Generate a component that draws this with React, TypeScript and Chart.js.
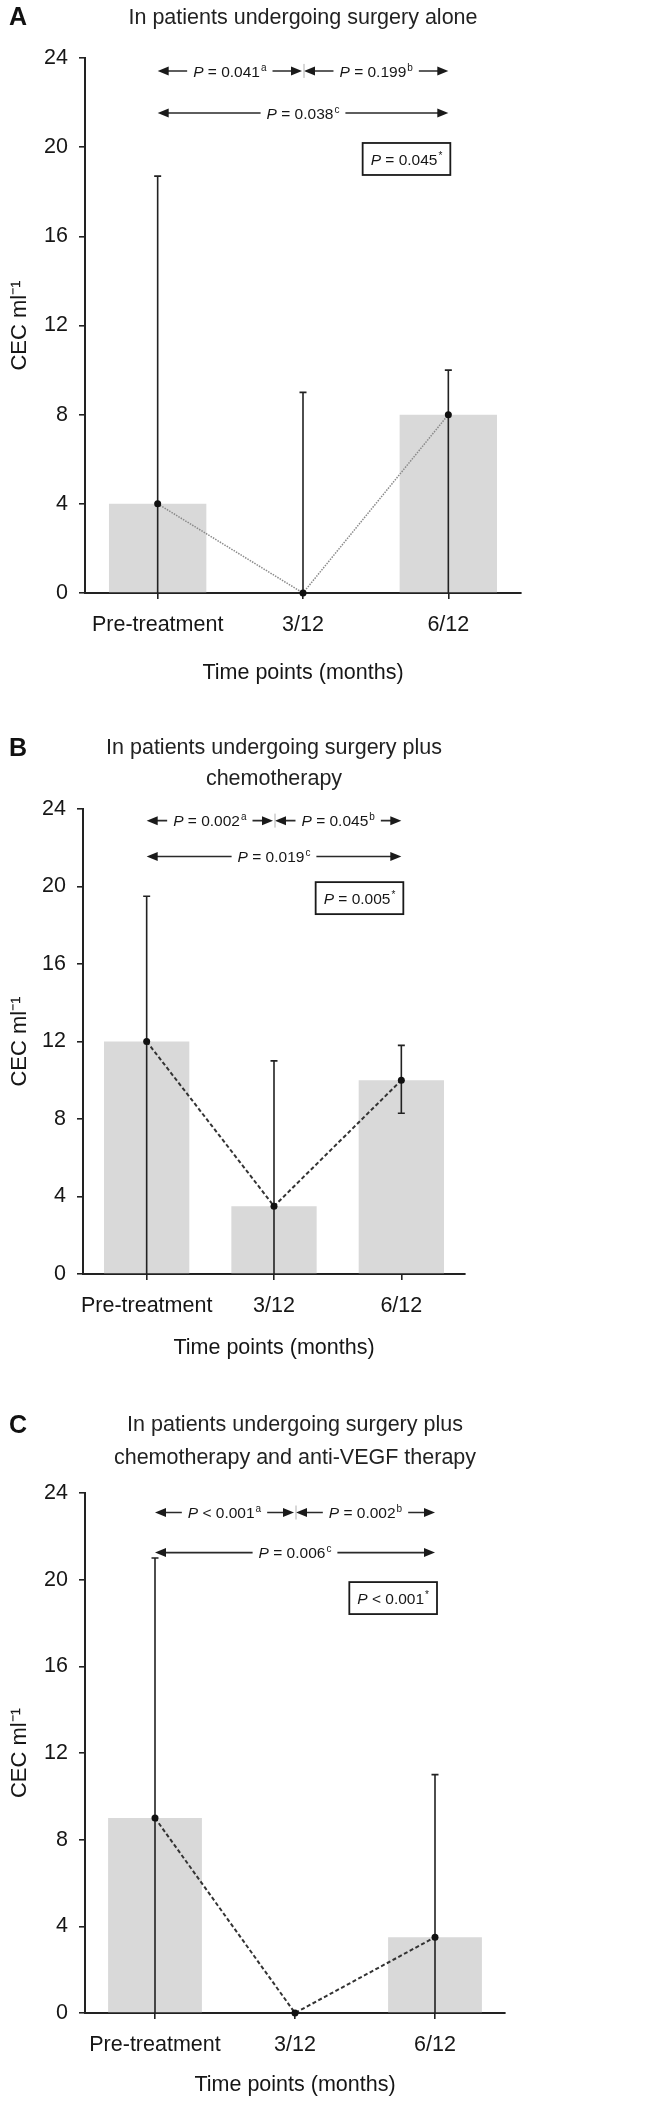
import React, { useEffect, useRef } from 'react';
import { Chart, registerables } from 'chart.js';

Chart.register(...registerables);

// ---------- data ----------
const categories = ['Pre-treatment', '3/12', '6/12'];

const surgeryMedian = [4, 0, 8];
const surgeryLow = [0, 0, 0];
const surgeryHigh = [18.7, 9, 10];

const chemoMedian = [12, 3.5, 10];
const chemoLow = [0, 0, 8.3];
const chemoHigh = [19.5, 11, 11.8];

const vegfMedian = [9, 0, 3.5];
const vegfLow = [0, 0, 0];
const vegfHigh = [21, 0, 11];

// comparisons: pre vs 3/12, 3/12 vs 6/12, pre vs 6/12, overall
const surgeryPValues = ['= 0.041', '= 0.199', '= 0.038', '= 0.045'];
const chemoPValues = ['= 0.002', '= 0.045', '= 0.019', '= 0.005'];
const vegfPValues = ['< 0.001', '= 0.002', '= 0.006', '< 0.001'];
const pMarks = ['a', 'b', 'c', '*'];

const yTickMax = 24;
const yTickStep = 4;

const yTitle = 'CEC ml\u207B\u00B9';
const xTitle = 'Time points (months)';

// ---------- layout / style ----------
const FONT = '"Liberation Sans", Arial, Helvetica, sans-serif';
const INK = '#161616';

type PanelCfg = {
  letter: string;
  title: string[];
  top: number;
  height: number;
  L: number;
  R: number;
  T: number;
  B: number;
  xh: number;
  median: number[];
  low: number[];
  high: number[];
  pv: string[];
  rowY: number[];
  boxY: number;
  letterY: number;
  titleY: number[];
  lineColor: string;
  lineDash: number[];
  lineWidth: number;
};

const panels: PanelCfg[] = [
  {
    letter: 'A',
    title: ['In patients undergoing surgery alone'],
    top: 0, height: 700,
    L: 85, R: 521, T: 58, B: 593, xh: 100,
    median: surgeryMedian, low: surgeryLow, high: surgeryHigh, pv: surgeryPValues,
    rowY: [23.42, 21.53], boxY: 19.47,
    letterY: 17, titleY: [17],
    lineColor: '#8a8a8a', lineDash: [1.5, 1.2], lineWidth: 1.5,
  },
  {
    letter: 'B',
    title: ['In patients undergoing surgery plus', 'chemotherapy'],
    top: 700, height: 700,
    L: 83, R: 465, T: 109, B: 574, xh: 94,
    median: chemoMedian, low: chemoLow, high: chemoHigh, pv: chemoPValues,
    rowY: [23.4, 21.55], boxY: 19.4,
    letterY: 48, titleY: [47, 78],
    lineColor: '#333333', lineDash: [4, 2.5], lineWidth: 2,
  },
  {
    letter: 'C',
    title: ['In patients undergoing surgery plus', 'chemotherapy and anti-VEGF therapy'],
    top: 1400, height: 707,
    L: 85, R: 505, T: 93, B: 613, xh: 92,
    median: vegfMedian, low: vegfLow, high: vegfHigh, pv: vegfPValues,
    rowY: [23.1, 21.25], boxY: 19.15,
    letterY: 25, titleY: [24, 57],
    lineColor: '#333333', lineDash: [4, 2.5], lineWidth: 2,
  },
];

const P_SIZE = 15.5;

function measureP(ctx: CanvasRenderingContext2D, value: string, mark: string, size: number) {
  ctx.font = `italic ${size}px ${FONT}`;
  const wP = ctx.measureText('P').width;
  ctx.font = `${size}px ${FONT}`;
  const wV = ctx.measureText(' ' + value).width;
  ctx.font = `${Math.round(size * 0.65)}px ${FONT}`;
  const wS = ctx.measureText(mark).width;
  return { wP, wV, wS, total: wP + wV + wS + 1 };
}

function drawP(ctx: CanvasRenderingContext2D, cx: number, cy: number, value: string, mark: string, size: number) {
  const m = measureP(ctx, value, mark, size);
  let x = cx - m.total / 2;
  const base = cy + size * 0.36;
  ctx.fillStyle = INK;
  ctx.textAlign = 'left';
  ctx.textBaseline = 'alphabetic';
  ctx.font = `italic ${size}px ${FONT}`;
  ctx.fillText('P', x, base);
  x += m.wP;
  ctx.font = `${size}px ${FONT}`;
  ctx.fillText(' ' + value, x, base);
  x += m.wV + 1;
  ctx.font = `${Math.round(size * 0.65)}px ${FONT}`;
  ctx.fillText(mark, x, base - size * 0.38);
  return m.total;
}

function arrowHead(ctx: CanvasRenderingContext2D, x: number, y: number, dir: number) {
  ctx.beginPath();
  ctx.moveTo(x, y);
  ctx.lineTo(x - dir * 11, y - 4.5);
  ctx.lineTo(x - dir * 11, y + 4.5);
  ctx.closePath();
  ctx.fill();
}

function drawArrow(ctx: CanvasRenderingContext2D, x1: number, x2: number, y: number, value: string, mark: string) {
  const mid = (x1 + x2) / 2;
  const m = measureP(ctx, value, mark, P_SIZE);
  const gap = 6;
  ctx.strokeStyle = '#2a2a2a';
  ctx.fillStyle = '#1a1a1a';
  ctx.lineWidth = 1.6;
  ctx.setLineDash([]);
  ctx.beginPath();
  ctx.moveTo(x1 + 4, y);
  ctx.lineTo(mid - m.total / 2 - gap, y);
  ctx.moveTo(mid + m.total / 2 + gap, y);
  ctx.lineTo(x2 - 4, y);
  ctx.stroke();
  arrowHead(ctx, x1, y, -1);
  arrowHead(ctx, x2, y, 1);
  drawP(ctx, mid, y, value, mark, P_SIZE);
}

function PanelChart({ p }: { p: PanelCfg }) {
  const ref = useRef<HTMLCanvasElement | null>(null);

  useEffect(() => {
    if (!ref.current) return;

    const errorBars = {
      id: 'errorBars' + p.letter,
      afterDatasetDraw(chart: any, args: any) {
        if (args.index !== 0) return;
        const { ctx, scales } = chart;
        const xs = scales.x;
        const ys = scales.y;
        ctx.save();
        ctx.strokeStyle = '#222';
        ctx.lineWidth = 1.6;
        ctx.setLineDash([]);
        p.median.forEach((_, i) => {
          if (p.high[i] <= p.low[i]) return;
          const x = xs.getPixelForValue(i);
          const y1 = ys.getPixelForValue(p.low[i]);
          const y2 = ys.getPixelForValue(p.high[i]);
          ctx.beginPath();
          ctx.moveTo(x, y1);
          ctx.lineTo(x, y2);
          if (p.high[i] > 0) {
            ctx.moveTo(x - 3.5, y2);
            ctx.lineTo(x + 3.5, y2);
          }
          if (p.low[i] > 0) {
            ctx.moveTo(x - 3.5, y1);
            ctx.lineTo(x + 3.5, y1);
          }
          ctx.stroke();
        });
        ctx.restore();
      },
    };

    const annotations = {
      id: 'annot' + p.letter,
      afterDraw(chart: any) {
        const { ctx, scales, chartArea } = chart;
        const xs = scales.x;
        const ys = scales.y;
        const c0 = xs.getPixelForValue(0);
        const c1 = xs.getPixelForValue(1);
        const c2 = xs.getPixelForValue(2);
        ctx.save();
        // panel letter
        ctx.fillStyle = '#111';
        ctx.font = `bold 25px ${FONT}`;
        ctx.textAlign = 'left';
        ctx.textBaseline = 'middle';
        ctx.fillText(p.letter, 9, p.letterY + 1);
        // title
        ctx.font = `21.5px ${FONT}`;
        ctx.fillStyle = '#222';
        ctx.textAlign = 'center';
        const tcx = (chartArea.left + chartArea.right) / 2;
        p.title.forEach((t, i) => ctx.fillText(t, tcx, p.titleY[i] + 1));
        // arrows
        const r1 = ys.getPixelForValue(p.rowY[0]);
        const r2 = ys.getPixelForValue(p.rowY[1]);
        drawArrow(ctx, c0, c1 - 1, r1, p.pv[0], pMarks[0]);
        drawArrow(ctx, c1 + 1, c2, r1, p.pv[1], pMarks[1]);
        ctx.strokeStyle = '#b0b0b0';
        ctx.lineWidth = 1;
        ctx.beginPath();
        ctx.moveTo(c1 + 1, r1 - 7);
        ctx.lineTo(c1 + 1, r1 + 7);
        ctx.stroke();
        drawArrow(ctx, c0, c2, r2, p.pv[2], pMarks[2]);
        // box
        const m = measureP(ctx, p.pv[3], pMarks[3], P_SIZE);
        const bw = m.total + 16;
        const bh = 32;
        const by = ys.getPixelForValue(p.boxY);
        const bx = c2 + 2 - bw;
        ctx.strokeStyle = '#1a1a1a';
        ctx.lineWidth = 1.8;
        ctx.strokeRect(bx, by - bh / 2, bw, bh);
        drawP(ctx, bx + bw / 2, by, p.pv[3], pMarks[3], P_SIZE);
        ctx.restore();
      },
    };

    const tickFont = { family: FONT, size: 21.5 };

    const chart = new Chart(ref.current, {
      type: 'bar',
      data: {
        labels: categories,
        datasets: [
          {
            type: 'bar',
            data: p.median,
            backgroundColor: '#d9d9d9',
            borderWidth: 0,
            barPercentage: 0.67,
            categoryPercentage: 1,
            order: 2,
          },
          {
            type: 'line',
            data: p.median,
            borderColor: p.lineColor,
            borderWidth: p.lineWidth,
            borderDash: p.lineDash,
            pointRadius: 3.5,
            pointBackgroundColor: '#111',
            pointBorderColor: '#111',
            pointBorderWidth: 0,
            fill: false,
            tension: 0,
            clip: false,
            order: 1,
          } as any,
        ],
      },
      options: {
        responsive: false,
        animation: false,
        devicePixelRatio: 1,
        layout: {
          padding: {
            left: 0,
            top: p.T,
            right: 645 - p.R,
            bottom: p.height - p.B - p.xh,
          },
        },
        plugins: {
          legend: { display: false },
          tooltip: { enabled: false },
          title: { display: false },
        },
        scales: {
          x: {
            type: 'category',
            offset: true,
            grid: {
              display: true,
              drawOnChartArea: false,
              drawTicks: true,
              tickLength: 6,
              offset: false,
              color: '#222',
              lineWidth: 1.6,
            },
            border: { display: true, color: '#222', width: 2 },
            ticks: {
              font: tickFont,
              color: INK,
              padding: 13,
              maxRotation: 0,
              autoSkip: false,
            },
            title: {
              display: true,
              text: xTitle,
              font: tickFont,
              color: INK,
              padding: { top: 0, bottom: 7 },
            },
            afterFit: (s: any) => {
              s.height = p.xh;
            },
          },
          y: {
            type: 'linear',
            min: 0,
            max: yTickMax,
            ticks: {
              stepSize: yTickStep,
              font: tickFont,
              color: INK,
              padding: 11,
            },
            grid: {
              display: true,
              drawOnChartArea: false,
              drawTicks: true,
              tickLength: 6,
              color: '#222',
              lineWidth: 1.6,
            },
            border: { display: true, color: '#222', width: 2 },
            title: {
              display: true,
              text: yTitle,
              font: { family: FONT, size: 22 },
              color: INK,
              padding: { top: 7, bottom: 0 },
            },
            afterFit: (s: any) => {
              s.width = p.L;
            },
          },
        },
      } as any,
      plugins: [errorBars, annotations],
    });

    return () => chart.destroy();
  }, [p]);

  return (
    <canvas
      ref={ref}
      width={645}
      height={p.height}
      style={{ position: 'absolute', left: 0, top: p.top, width: 645, height: p.height, display: 'block' }}
    />
  );
}

export default function App() {
  return (
    <div style={{ position: 'absolute', left: 0, top: 0, width: 645, height: 2107, background: '#fff' }}>
      {panels.map((p) => (
        <PanelChart key={p.letter} p={p} />
      ))}
    </div>
  );
}
